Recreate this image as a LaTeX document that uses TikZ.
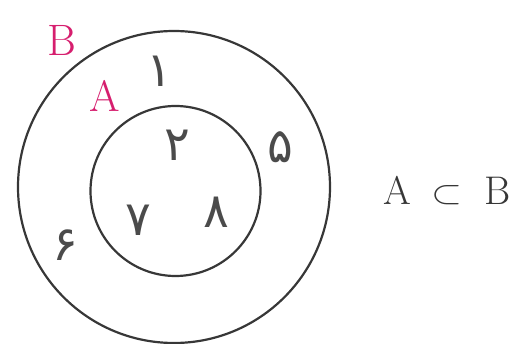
\documentclass[tikz,border=0pt]{standalone}
\usepackage{fontspec}
\newfontfamily\fadigits[Script=Arabic]{DejaVu Sans}
\definecolor{setmag}{RGB}{214,30,110}
\definecolor{ringgray}{RGB}{55,55,55}
\definecolor{digitgray}{RGB}{75,75,75}
\tikzset{
  ring/.style={draw=ringgray, line width=2.2pt},
  setlabel/.style={text=setmag, inner sep=0pt, font=\fontsize{44}{48}\selectfont},
  elem/.style={text=digitgray, inner sep=0pt, font=\fadigits\fontsize{48}{52}\selectfont},
  relation/.style={text=ringgray, inner sep=0pt, font=\fontsize{40}{44}\selectfont}
}
\begin{document}
\begin{tikzpicture}[x=1pt,y=-1pt]
\useasboundingbox (0,0) rectangle (517,344);
\node[ring, circle, minimum size=312pt, inner sep=0pt] (B) at (174,187) {};
\node[ring, circle, minimum size=170pt, inner sep=0pt] (A) at (175.5,191) {};
\node[setlabel] (lB) at (62,40) {B};
\node[setlabel] (lA) at (105,96) {A};
\node[elem] (e1) at (159,71) {۱};
\node[elem] (e2) at (177,145) {۲};
\node[elem] (e5) at (280,147) {۵};
\node[elem] (e7) at (138,220) {۷};
\node[elem] (e8) at (216,212) {۸};
\node[elem] (e6) at (65,245) {۶};
\node[relation, anchor=base] (rA) at (397,205) {A};
\node[relation, anchor=south] (rsub) at (447,205) {\resizebox{31pt}{18pt}{$\subset$}};
\node[relation, anchor=base] (rB) at (498,205) {B};
\end{tikzpicture}
\end{document}
